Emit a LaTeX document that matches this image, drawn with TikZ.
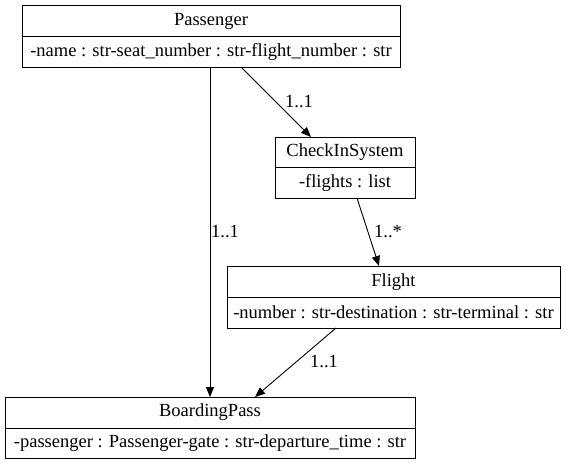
\documentclass[tikz,border=0pt]{standalone}
\usepackage{fontspec}
\setmainfont{Liberation Serif}
\usetikzlibrary{arrows.meta,calc}
\tikzset{
  cls/.style={draw, line width=0.9pt, inner sep=0pt, outer sep=0pt, fill=white},
  txt/.style={font=\fontsize{18.5}{21}\selectfont, inner sep=0pt},
  edge/.style={line width=0.9pt, -{Triangle[length=10pt,width=8pt]}},
  mult/.style={font=\fontsize{18.5}{21}\selectfont, inner sep=0pt}
}
\begin{document}
\begin{tikzpicture}[x=1pt,y=-1pt]
\useasboundingbox (0,0) rectangle (565,465);
% Passenger
\node[cls, minimum width=378pt, minimum height=62pt] (P) at (211,36) {};
\draw[line width=0.9pt] (22,36) -- (400,36);
\node[txt] (Pt) at (211,21) {Passenger};
\node[txt] (Pa) at (211,51.5) {-name : str-seat\_number : str-flight\_number : str};
% CheckInSystem
\node[cls, minimum width=140pt, minimum height=61pt] (C) at (345,167.5) {};
\draw[line width=0.9pt] (275,167.5) -- (415,167.5);
\node[txt] (Ct) at (345,152) {CheckInSystem};
\node[txt] (Ca) at (345,182.5) {-flights : list};
% Flight
\node[cls, minimum width=333pt, minimum height=62pt] (F) at (393.5,297) {};
\draw[line width=0.9pt] (227,297) -- (560,297);
\node[txt] (Ft) at (393.5,282) {Flight};
\node[txt] (Fa) at (393.5,312.5) {-number : str-destination : str-terminal : str};
% BoardingPass
\node[cls, minimum width=410pt, minimum height=61pt] (B) at (210,427.5) {};
\draw[line width=0.9pt] (5,428) -- (415,428);
\node[txt] (Bt) at (210,412.5) {BoardingPass};
\node[txt] (Ba) at (210,443) {-passenger : Passenger-gate : str-departure\_time : str};
% edges
\draw[edge] ($(P.south west)+(188,0)$) -- ($(B.north west)+(205,0)$);
\node[mult] (l1) at (225,232) {1..1};
\draw[edge] ($(P.south west)+(219,0)$) -- ($(C.north west)+(36,0)$);
\node[mult] (l2) at (299,102) {1..1};
\draw[edge] ($(C.south west)+(82,0)$) -- ($(F.north west)+(152,0)$);
\node[mult] (l3) at (388,232) {1..*};
\draw[edge] ($(F.south west)+(109,0)$) -- ($(B.north west)+(250,0)$);
\node[mult] (l4) at (324,362) {1..1};
\end{tikzpicture}
\end{document}
